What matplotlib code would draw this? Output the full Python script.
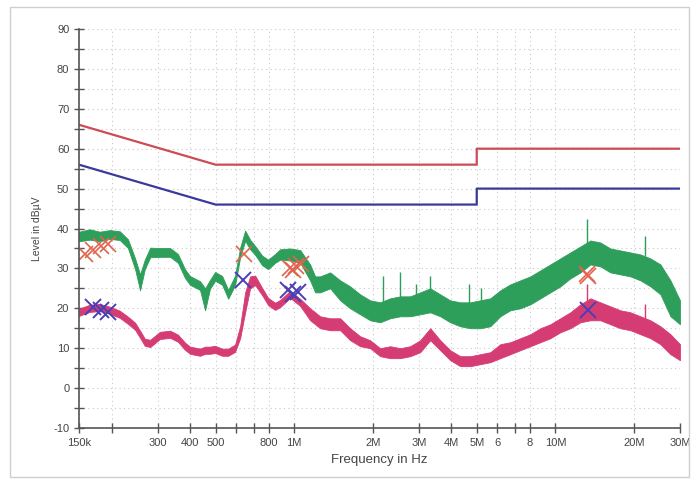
import numpy as np
import matplotlib.pyplot as plt
from matplotlib.patches import Rectangle

plt.rcParams['font.family'] = ['Liberation Sans', 'DejaVu Sans']
plt.rcParams['axes.unicode_minus'] = False

# frequency grid of the read-off points, MHz
freq = [0.150, 0.165, 0.180, 0.197, 0.215, 0.231, 0.246, 0.257, 0.268, 0.281,
        0.306, 0.335, 0.359, 0.382, 0.399, 0.436, 0.456, 0.476, 0.498, 0.530,
        0.559, 0.594, 0.621, 0.649, 0.678, 0.709, 0.754, 0.795, 0.845, 0.884,
        0.965, 1.054, 1.151, 1.203, 1.257, 1.374, 1.500, 1.638, 1.789, 1.954,
        2.134, 2.331, 2.547, 2.781, 3.038, 3.318, 3.624, 3.958, 4.324, 4.723,
        5.159, 5.634, 6.153, 6.721, 7.342, 8.019, 8.759, 9.566, 10.45, 11.41,
        12.47, 13.62, 14.87, 16.24, 17.74, 19.38, 21.17, 23.12, 25.25, 27.58, 30.0]

# peak detector trace (green), upper / lower edge of the noisy band
peak_hi = [39.2, 39.8, 39.2, 39.6, 39.3, 37.3, 32.5, 28.5, 32.2, 35.2,
           35.1, 35.1, 33.6, 29.8, 28.1, 26.8, 25.0, 27.1, 29.1, 28.1,
           24.6, 28.2, 35.2, 39.5, 37.2, 35.6, 33.2, 32.2, 33.6, 34.8,
           35.0, 34.6, 31.0, 28.0, 28.0, 29.0, 27.0, 25.5, 23.5, 22.0,
           21.5, 22.5, 23.0, 23.0, 24.0, 25.0, 23.5, 22.0, 21.5, 21.5,
           22.0, 22.5, 24.5, 26.0, 27.0, 28.0, 29.5, 31.0, 32.5, 34.0,
           35.5, 37.0, 36.5, 35.0, 34.5, 34.0, 33.5, 32.5, 31.0, 27.0, 22.0]
peak_lo = [36.8, 37.2, 36.8, 37.4, 37.1, 35.1, 29.8, 24.5, 29.8, 32.8,
           32.9, 32.9, 31.4, 27.6, 25.9, 24.6, 19.5, 24.9, 26.9, 25.9,
           22.4, 25.8, 32.8, 36.9, 34.8, 33.4, 30.8, 29.8, 31.4, 32.2,
           32.0, 31.4, 27.0, 24.0, 24.0, 25.0, 22.0, 20.0, 18.5, 17.0,
           16.5, 17.5, 18.0, 18.0, 18.5, 19.0, 18.0, 16.5, 15.5, 15.0,
           15.0, 15.5, 18.0, 19.5, 20.0, 21.0, 22.5, 24.0, 25.5, 27.5,
           29.0, 31.0, 30.5, 29.0, 28.5, 28.0, 27.0, 25.5, 23.5, 18.0, 16.0]

# average detector trace (pink)
avg_hi = [19.9, 20.9, 21.1, 20.4, 19.4, 17.9, 16.4, 14.4, 12.4, 12.1,
          14.1, 14.4, 13.4, 11.4, 10.4, 9.9, 10.4, 10.4, 10.6, 9.9,
          9.9, 10.9, 15.5, 24.0, 28.0, 28.2, 25.1, 22.6, 21.4, 22.1,
          24.4, 22.4, 20.0, 19.0, 18.0, 17.5, 17.5, 15.0, 13.0, 12.0,
          10.0, 10.5, 10.0, 10.5, 12.0, 15.0, 12.0, 9.5, 8.0, 8.0,
          8.5, 9.0, 11.0, 11.5, 12.5, 13.5, 15.0, 16.0, 17.5, 19.0,
          21.0, 22.5, 21.5, 20.5, 19.5, 19.0, 18.0, 17.0, 15.5, 13.5, 11.0]
avg_lo = [18.1, 19.1, 19.3, 18.6, 17.6, 16.1, 14.6, 12.6, 10.6, 10.3,
          12.3, 12.6, 11.6, 9.6, 8.6, 8.1, 8.6, 8.6, 8.8, 8.1,
          8.1, 9.1, 12.5, 19.0, 25.0, 25.8, 23.3, 20.8, 19.6, 20.3,
          22.6, 20.6, 17.0, 16.0, 15.0, 14.5, 14.5, 12.0, 10.5, 10.0,
          8.0, 7.5, 7.5, 8.0, 9.0, 12.0, 9.5, 7.0, 5.5, 5.5,
          6.0, 6.5, 7.5, 8.5, 9.5, 10.5, 11.5, 12.5, 14.0, 15.0,
          16.5, 17.0, 17.0, 16.0, 15.0, 14.5, 13.5, 12.5, 11.0, 8.5, 7.0]

# narrow spikes sticking out of the traces
peak_spike_f = [2.19, 2.55, 2.92, 3.32, 4.68, 5.20, 13.2, 22.0]
peak_spike_base = [21.0, 22.0, 22.0, 24.0, 20.0, 20.0, 36.0, 33.0]
peak_spike_top = [28.0, 29.0, 26.0, 28.0, 26.0, 25.0, 42.5, 38.0]
avg_spike_f = [13.2, 22.0]
avg_spike_base = [21.0, 17.0]
avg_spike_top = [26.0, 21.0]

# limit lines
lim_f = [0.15, 0.5, 5.0, 5.0, 30.0]
qp_limit = [66, 56, 56, 60, 60]
av_limit = [56, 46, 46, 50, 50]

# final measurement markers
qp_mark_f = [0.158, 0.170, 0.182, 0.194, 0.642, 0.967, 0.990, 1.02, 1.06, 13.2, 13.3]
qp_mark_v = [33.5, 34.5, 35.5, 36.0, 33.5, 30.0, 29.5, 30.5, 31.0, 28.5, 28.0]
av_mark_f = [0.170, 0.182, 0.194, 0.637, 0.947, 0.986, 1.03, 13.3]
av_mark_v = [20.3, 19.5, 19.0, 27.0, 24.5, 23.5, 24.0, 19.5]

xticks = [0.15, 0.2, 0.3, 0.4, 0.5, 0.6, 0.7, 0.8, 1, 2, 3, 4, 5, 6, 7, 8, 10, 20, 30]
xlabels = ['150k', '', '300', '400', '500', '', '', '800', '1M', '2M', '3M', '4M',
           '5M', '6', '', '8', '10M', '20M', '30M']

green = '#2e9e5b'
pink = '#d63c74'
red = '#cc4b55'
blue = '#3a3a9a'

fig = plt.figure(figsize=(6.94, 4.8), dpi=100)
ax = fig.add_axes([0.1138, 0.1083, 0.8660, 0.8313])

ax.fill_between(freq, peak_lo, peak_hi, color=green, lw=0.6)
ax.vlines(peak_spike_f, peak_spike_base, peak_spike_top, color=green, lw=1.0)
ax.fill_between(freq, avg_lo, avg_hi, color=pink, lw=0.6)
ax.vlines(avg_spike_f, avg_spike_base, avg_spike_top, color=pink, lw=1.0)

ax.plot(lim_f, qp_limit, color=red, lw=1.6)
ax.plot(lim_f, av_limit, color=blue, lw=1.6)

ax.plot(qp_mark_f, qp_mark_v, ls='none', marker='x', ms=11, mew=1.2, color='#e0644e')
ax.plot(av_mark_f, av_mark_v, ls='none', marker='x', ms=11, mew=1.4, color='#4b3fb5')

ax.set_xscale('log')
ax.set_xlim(0.15, 30)
ax.set_ylim(-10, 90)
ax.set_xticks(xticks)
ax.set_xticklabels(xlabels)
ax.xaxis.set_minor_locator(plt.NullLocator())
ax.set_yticks(np.arange(-10, 91, 10))
ax.set_yticks(np.arange(-5, 90, 10), minor=True)

ax.grid(True, which='both', ls=(0, (1, 3)), color='#c8c8c8', lw=0.8)
ax.set_axisbelow(True)
for s in ['top', 'right']:
    ax.spines[s].set_visible(False)
for s in ['left', 'bottom']:
    ax.spines[s].set_color('#555555')
    ax.spines[s].set_linewidth(1.2)
ax.tick_params(which='both', direction='inout', length=7, width=1, color='#555555',
               labelsize=8, labelcolor='#444444')
ax.tick_params(axis='x', pad=4)

ax.set_xlabel('Frequency in Hz', fontsize=9.5, color='#444444', labelpad=4)
ax.set_ylabel('Level in dBµV', fontsize=7.5, color='#444444', labelpad=8)

fig.patches.append(Rectangle((0.0144, 0.006), 0.978, 0.979, transform=fig.transFigure,
                             fill=False, ec='#cfcfcf', lw=1))

fig.savefig('out.png', dpi=100)
